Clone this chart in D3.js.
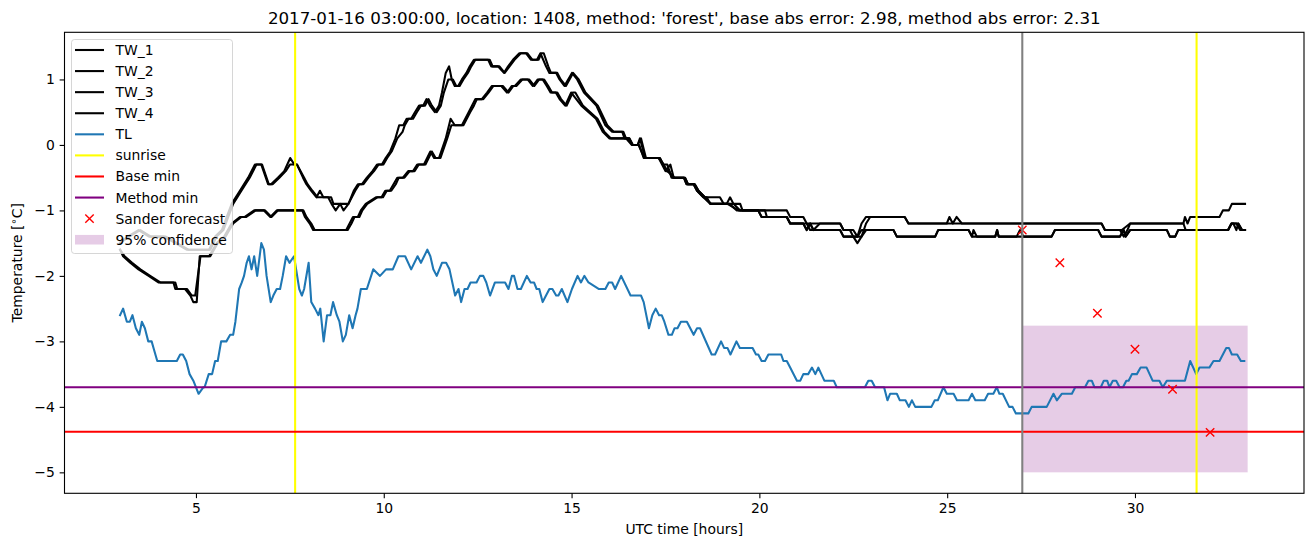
<!DOCTYPE html>
<html><head><meta charset="utf-8">
<script src="https://cdn.jsdelivr.net/npm/d3@7"></script>
<style>body{margin:0;background:#fff;} svg{display:block;font-family:"DejaVu Sans",sans-serif;}</style>
</head><body><svg id="chart" width="1313" height="547"></svg>
<script>
// ---------------- data ----------------
const tw1 = [[2.98,-1.5],[3.18,-1.4],[3.47,-1.3],[3.75,-1.4],[4.15,-1.4],[4.45,-1.5],[4.75,-1.6],[5.05,-1.6],[5.35,-1.6],[5.51,-1.4],[5.69,-1.3],[5.82,-1.1],[5.95,-0.9],[6.17,-0.7],[6.39,-0.5],[6.57,-0.3],[6.74,-0.3],[6.92,-0.6],[7.0,-0.6],[7.18,-0.5],[7.35,-0.4],[7.51,-0.2],[7.62,-0.3],[7.69,-0.3],[7.85,-0.5],[7.94,-0.6],[8.07,-0.7],[8.21,-0.8],[8.3,-0.7],[8.39,-0.8],[8.52,-0.8],[8.61,-0.9],[8.72,-1.0],[8.84,-0.9],[8.93,-1.0],[9.06,-0.9],[9.2,-0.7],[9.31,-0.6],[9.42,-0.6],[9.55,-0.5],[9.7,-0.4],[9.82,-0.3],[9.95,-0.3],[10.05,-0.2],[10.17,-0.1],[10.31,0.1],[10.41,0.3],[10.52,0.3],[10.61,0.4],[10.73,0.4],[10.83,0.5],[10.94,0.6],[11.05,0.6],[11.14,0.7],[11.23,0.6],[11.36,0.5],[11.47,0.6],[11.55,0.8],[11.65,1.1],[11.74,1.2],[11.81,1.0],[11.89,0.9],[11.98,0.9],[12.08,1.0],[12.2,1.1],[12.29,1.2],[12.4,1.3],[12.78,1.3],[12.86,1.2],[13.04,1.2],[13.2,1.1],[13.31,1.2],[13.44,1.3],[13.61,1.4],[13.79,1.4],[13.92,1.3],[14.08,1.3],[14.17,1.4],[14.32,1.2],[14.41,1.1],[14.59,1.1],[14.68,1.0],[14.81,0.9],[15.01,1.1],[15.15,1.0],[15.33,0.8],[15.66,0.6],[15.9,0.3],[16.08,0.2],[16.35,0.2],[16.41,0.1],[16.54,0.1],[16.63,0.0],[16.76,0.0],[16.82,0.1],[16.96,-0.2],[17.32,-0.2],[17.5,-0.4],[17.63,-0.3],[17.72,-0.5],[17.99,-0.5],[18.06,-0.6],[18.25,-0.6],[18.34,-0.7],[18.51,-0.8],[18.69,-0.9],[19.13,-0.9],[19.22,-0.8],[19.31,-0.9],[19.49,-1.0],[20.73,-1.0],[20.82,-1.1],[21.17,-1.1],[21.26,-1.2],[22.15,-1.2],[22.24,-1.3],[22.41,-1.3],[22.5,-1.4],[22.61,-1.5],[22.72,-1.4],[22.84,-1.2],[22.95,-1.1],[23.87,-1.1],[23.97,-1.2],[24.99,-1.2],[25.06,-1.1],[25.15,-1.2],[25.25,-1.1],[25.39,-1.2],[29.11,-1.2],[29.2,-1.3],[29.6,-1.3],[29.7,-1.4],[29.8,-1.3],[29.87,-1.2],[31.29,-1.2],[31.33,-1.1],[31.4,-1.2],[31.47,-1.1],[32.25,-1.1],[32.34,-1.0],[32.5,-1.0],[32.58,-0.9],[32.93,-0.9]];
const tw2 = [[2.98,-1.5],[3.22,-1.4],[3.52,-1.3],[3.8,-1.4],[4.2,-1.4],[4.5,-1.5],[4.8,-1.6],[5.1,-1.6],[5.38,-1.6],[5.55,-1.4],[5.73,-1.3],[5.86,-1.1],[5.99,-0.9],[6.21,-0.7],[6.43,-0.5],[6.61,-0.3],[6.76,-0.3],[6.94,-0.6],[7.04,-0.6],[7.22,-0.5],[7.39,-0.4],[7.5,-0.3],[7.69,-0.3],[7.88,-0.5],[7.97,-0.6],[8.1,-0.7],[8.24,-0.8],[8.4,-0.8],[8.6,-0.8],[8.66,-0.9],[9.06,-0.9],[9.24,-0.7],[9.35,-0.6],[9.46,-0.6],[9.59,-0.5],[9.74,-0.4],[9.86,-0.3],[9.99,-0.3],[10.09,-0.2],[10.21,-0.1],[10.36,0.1],[10.5,0.2],[10.56,0.3],[10.66,0.4],[10.78,0.4],[10.88,0.5],[10.99,0.6],[11.1,0.6],[11.19,0.7],[11.28,0.6],[11.41,0.5],[11.52,0.6],[11.6,0.8],[11.72,1.0],[11.84,1.0],[11.93,0.9],[12.02,0.9],[12.12,1.0],[12.24,1.1],[12.33,1.2],[12.44,1.3],[12.82,1.3],[12.9,1.2],[13.08,1.2],[13.22,1.1],[13.35,1.2],[13.48,1.3],[13.65,1.4],[13.82,1.4],[13.96,1.3],[14.12,1.3],[14.2,1.4],[14.26,1.4],[14.38,1.2],[14.45,1.1],[14.62,1.1],[14.71,1.0],[14.85,0.9],[15.04,1.1],[15.19,1.0],[15.37,0.8],[15.7,0.6],[15.95,0.3],[16.12,0.2],[16.38,0.2],[16.45,0.1],[16.54,0.1],[16.63,0.0],[16.8,0.0],[16.92,-0.2],[17.32,-0.2],[17.45,-0.3],[17.55,-0.3],[17.66,-0.5],[17.99,-0.5],[18.06,-0.6],[18.25,-0.6],[18.34,-0.7],[18.51,-0.8],[18.6,-0.8],[18.69,-0.9],[19.2,-0.9],[19.4,-1.0],[19.97,-1.0],[20.06,-1.1],[20.73,-1.1],[20.82,-1.2],[21.17,-1.2],[21.26,-1.3],[21.35,-1.2],[21.44,-1.3],[21.61,-1.2],[22.15,-1.2],[22.24,-1.3],[22.5,-1.3],[22.61,-1.4],[22.72,-1.2],[22.84,-1.1],[23.87,-1.1],[23.97,-1.2],[29.11,-1.2],[29.2,-1.3],[29.65,-1.3],[29.87,-1.2],[31.29,-1.2],[31.35,-1.3],[32.48,-1.3],[32.57,-1.2],[32.75,-1.2],[32.85,-1.3],[32.93,-1.3]];
const tw3 = [[2.98,-1.6],[3.06,-1.7],[3.25,-1.8],[3.47,-1.9],[3.74,-2.0],[4.0,-2.1],[4.4,-2.1],[4.45,-2.2],[4.71,-2.2],[4.85,-2.3],[4.93,-2.4],[5.02,-2.4],[5.1,-1.7],[5.35,-1.7],[5.55,-1.5],[5.75,-1.4],[5.95,-1.2],[6.17,-1.1],[6.3,-1.1],[6.55,-1.0],[6.81,-1.0],[6.98,-1.1],[7.15,-1.0],[7.83,-1.0],[7.9,-1.1],[8.03,-1.2],[8.12,-1.3],[9.0,-1.3],[9.18,-1.1],[9.31,-1.1],[9.39,-1.0],[9.52,-0.9],[9.79,-0.8],[9.94,-0.8],[10.04,-0.7],[10.16,-0.7],[10.36,-0.5],[10.51,-0.5],[10.65,-0.4],[10.78,-0.4],[10.89,-0.3],[11.07,-0.3],[11.24,-0.1],[11.34,-0.2],[11.47,-0.2],[11.65,0.1],[11.78,0.4],[11.89,0.3],[12.08,0.3],[12.26,0.5],[12.44,0.7],[12.61,0.7],[12.75,0.8],[12.88,0.9],[13.13,0.9],[13.28,0.8],[13.41,0.9],[13.49,0.9],[13.65,1.0],[13.83,1.0],[13.97,0.9],[14.1,1.0],[14.23,1.0],[14.34,0.9],[14.44,0.8],[14.58,0.8],[14.68,0.7],[14.83,0.6],[14.99,0.8],[15.26,0.6],[15.65,0.4],[15.83,0.2],[16.01,0.1],[16.36,0.1],[16.45,0.1],[16.6,0.0],[16.76,0.0],[16.85,0.1],[16.98,-0.2],[17.35,-0.2],[17.52,-0.4],[17.6,-0.4],[17.7,-0.5],[18.02,-0.5],[18.1,-0.6],[18.28,-0.6],[18.38,-0.7],[18.55,-0.8],[18.95,-0.8],[19.05,-0.9],[19.49,-0.9],[19.55,-1.0],[19.97,-1.0],[20.06,-1.1],[20.73,-1.1],[20.82,-1.2],[21.17,-1.2],[21.26,-1.3],[21.35,-1.2],[21.44,-1.3],[22.15,-1.3],[22.24,-1.4],[22.61,-1.4],[22.72,-1.3],[23.57,-1.3],[23.66,-1.4],[24.68,-1.4],[24.76,-1.3],[25.57,-1.3],[25.66,-1.4],[25.7,-1.3],[25.79,-1.4],[26.28,-1.4],[26.33,-1.3],[26.37,-1.4],[26.85,-1.4],[26.94,-1.3],[27.03,-1.4],[27.78,-1.4],[27.87,-1.3],[29.02,-1.3],[29.11,-1.4],[29.6,-1.4],[29.7,-1.3],[29.75,-1.4],[29.87,-1.3],[30.85,-1.3],[30.93,-1.4],[31.07,-1.4],[31.15,-1.3],[32.48,-1.3],[32.57,-1.2],[32.7,-1.2],[32.8,-1.3],[32.93,-1.3]];
const tw4 = [[2.98,-1.6],[3.1,-1.7],[3.3,-1.8],[3.52,-1.9],[3.78,-2.0],[4.05,-2.1],[4.45,-2.1],[4.5,-2.2],[4.76,-2.2],[4.89,-2.3],[4.98,-2.3],[5.12,-1.7],[5.38,-1.7],[5.58,-1.5],[5.79,-1.4],[5.99,-1.2],[6.21,-1.1],[6.34,-1.1],[6.59,-1.0],[6.84,-1.0],[7.01,-1.1],[7.18,-1.0],[7.86,-1.0],[7.94,-1.1],[8.07,-1.2],[8.16,-1.3],[9.04,-1.3],[9.14,-1.2],[9.22,-1.1],[9.35,-1.1],[9.43,-1.0],[9.56,-0.9],[9.83,-0.8],[9.98,-0.8],[10.08,-0.7],[10.2,-0.7],[10.32,-0.6],[10.4,-0.5],[10.55,-0.5],[10.69,-0.4],[10.82,-0.4],[10.93,-0.3],[11.11,-0.3],[11.28,-0.1],[11.38,-0.2],[11.51,-0.2],[11.69,0.1],[11.8,0.3],[11.93,0.3],[12.12,0.3],[12.3,0.5],[12.4,0.6],[12.48,0.7],[12.65,0.7],[12.79,0.8],[12.92,0.9],[13.17,0.9],[13.32,0.8],[13.45,0.9],[13.53,0.9],[13.69,1.0],[13.87,1.0],[14.01,0.9],[14.14,1.0],[14.27,1.0],[14.38,0.9],[14.48,0.8],[14.62,0.8],[14.72,0.7],[14.87,0.6],[15.03,0.8],[15.1,0.8],[15.3,0.6],[15.69,0.4],[15.87,0.2],[16.05,0.1],[16.4,0.1],[16.5,0.1],[16.62,0.0],[16.78,0.0],[16.94,-0.2],[17.35,-0.2],[17.55,-0.4],[17.74,-0.5],[18.02,-0.5],[18.1,-0.6],[18.28,-0.6],[18.38,-0.7],[18.55,-0.8],[18.72,-0.9],[19.15,-0.9],[19.45,-1.0],[20.15,-1.0],[20.2,-1.1],[20.73,-1.1],[20.82,-1.2],[21.26,-1.2],[21.35,-1.3],[22.15,-1.3],[22.24,-1.4],[22.72,-1.4],[22.84,-1.3],[23.57,-1.3],[23.66,-1.4],[24.68,-1.4],[24.76,-1.3],[25.57,-1.3],[25.66,-1.4],[26.28,-1.4],[26.33,-1.3],[26.37,-1.4],[27.78,-1.4],[27.87,-1.3],[29.02,-1.3],[29.11,-1.4],[29.6,-1.4],[29.7,-1.3],[29.75,-1.4],[29.87,-1.3],[30.85,-1.3],[30.93,-1.4],[31.07,-1.4],[31.15,-1.3],[32.48,-1.3],[32.57,-1.2],[32.62,-1.2],[32.7,-1.3],[32.75,-1.2],[32.85,-1.3],[32.93,-1.3]];
const tl = [[2.98,-2.6],[3.06,-2.5],[3.16,-2.7],[3.24,-2.7],[3.31,-2.6],[3.4,-2.8],[3.49,-2.9],[3.56,-2.7],[3.64,-2.8],[3.73,-3.0],[3.82,-3.0],[3.87,-3.1],[3.97,-3.3],[4.49,-3.3],[4.58,-3.2],[4.65,-3.2],[4.74,-3.3],[4.83,-3.5],[4.93,-3.6],[5.07,-3.8],[5.2,-3.7],[5.23,-3.7],[5.34,-3.5],[5.43,-3.5],[5.51,-3.3],[5.58,-3.3],[5.67,-3.0],[5.81,-3.0],[5.91,-2.9],[5.99,-2.9],[6.05,-2.7],[6.15,-2.2],[6.22,-2.1],[6.28,-2.0],[6.35,-1.8],[6.41,-1.7],[6.48,-1.9],[6.55,-1.7],[6.63,-2.0],[6.74,-1.5],[6.81,-1.6],[6.88,-2.0],[6.99,-2.4],[7.06,-2.3],[7.15,-2.2],[7.24,-2.2],[7.31,-2.0],[7.4,-1.7],[7.49,-1.8],[7.61,-1.7],[7.75,-2.2],[7.82,-2.3],[7.88,-2.2],[8.0,-1.8],[8.07,-2.4],[8.17,-2.5],[8.26,-2.6],[8.31,-2.5],[8.4,-3.0],[8.49,-2.6],[8.58,-2.6],[8.65,-2.4],[8.75,-2.6],[8.82,-2.7],[8.91,-3.0],[8.99,-2.9],[9.08,-2.6],[9.17,-2.8],[9.25,-2.6],[9.3,-2.5],[9.39,-2.2],[9.55,-2.2],[9.72,-1.9],[9.9,-2.0],[10.06,-1.9],[10.24,-1.9],[10.39,-1.7],[10.57,-1.7],[10.73,-1.9],[10.9,-1.7],[10.99,-1.8],[11.16,-1.6],[11.24,-1.7],[11.32,-1.9],[11.41,-2.0],[11.55,-1.8],[11.66,-1.8],[11.75,-1.9],[11.9,-2.3],[11.99,-2.2],[12.06,-2.4],[12.15,-2.2],[12.23,-2.2],[12.31,-2.1],[12.47,-2.1],[12.56,-2.0],[12.65,-2.0],[12.73,-2.1],[12.83,-2.3],[12.96,-2.1],[13.23,-2.1],[13.32,-2.2],[13.41,-2.0],[13.47,-2.0],[13.56,-2.2],[13.65,-2.2],[13.81,-2.0],[13.91,-2.1],[14.0,-2.1],[14.07,-2.2],[14.14,-2.2],[14.23,-2.4],[14.41,-2.2],[14.49,-2.2],[14.59,-2.3],[14.65,-2.3],[14.74,-2.2],[14.89,-2.4],[15.01,-2.2],[15.16,-2.0],[15.25,-2.1],[15.34,-2.0],[15.45,-2.1],[15.72,-2.2],[15.9,-2.2],[15.99,-2.1],[16.08,-2.1],[16.16,-2.2],[16.32,-2.0],[16.57,-2.3],[16.85,-2.3],[16.92,-2.4],[17.06,-2.8],[17.15,-2.6],[17.24,-2.5],[17.33,-2.6],[17.4,-2.6],[17.47,-2.7],[17.58,-2.9],[17.67,-2.9],[17.74,-2.8],[17.82,-2.8],[17.91,-2.7],[18.07,-2.7],[18.25,-2.9],[18.34,-2.8],[18.42,-2.8],[18.73,-3.2],[18.82,-3.2],[18.98,-3.0],[19.06,-3.1],[19.15,-3.1],[19.23,-3.2],[19.39,-3.0],[19.48,-3.1],[19.82,-3.1],[19.91,-3.2],[19.97,-3.2],[20.06,-3.3],[20.15,-3.3],[20.24,-3.2],[20.58,-3.2],[20.64,-3.3],[20.73,-3.3],[20.82,-3.4],[21.0,-3.6],[21.09,-3.6],[21.17,-3.5],[21.3,-3.5],[21.4,-3.4],[21.49,-3.5],[21.57,-3.4],[21.73,-3.6],[21.98,-3.6],[22.06,-3.7],[22.81,-3.7],[22.9,-3.6],[22.99,-3.6],[23.08,-3.7],[23.32,-3.7],[23.41,-3.9],[23.48,-3.8],[23.66,-3.8],[23.74,-3.9],[23.89,-3.9],[23.98,-4.0],[24.06,-3.9],[24.15,-4.0],[24.58,-4.0],[24.67,-3.9],[24.75,-3.9],[24.9,-3.7],[24.99,-3.8],[25.17,-3.8],[25.26,-3.9],[25.57,-3.9],[25.66,-3.8],[25.75,-3.9],[26.0,-3.9],[26.09,-3.8],[26.23,-3.8],[26.32,-3.7],[26.39,-3.8],[26.48,-3.8],[26.65,-4.0],[26.74,-4.0],[26.83,-4.1],[27.16,-4.1],[27.25,-4.0],[27.65,-4.0],[27.83,-3.8],[27.92,-3.9],[28.05,-3.8],[28.32,-3.8],[28.41,-3.7],[28.67,-3.7],[28.76,-3.6],[28.85,-3.6],[28.92,-3.7],[29.09,-3.7],[29.17,-3.6],[29.26,-3.6],[29.32,-3.7],[29.41,-3.6],[29.5,-3.6],[29.59,-3.7],[29.68,-3.7],[29.77,-3.6],[29.83,-3.6],[29.92,-3.5],[30.05,-3.5],[30.15,-3.4],[30.31,-3.4],[30.47,-3.6],[30.65,-3.6],[30.74,-3.7],[30.85,-3.6],[31.33,-3.6],[31.47,-3.3],[31.63,-3.5],[31.72,-3.4],[31.98,-3.4],[32.09,-3.3],[32.25,-3.3],[32.43,-3.1],[32.5,-3.1],[32.58,-3.2],[32.72,-3.2],[32.82,-3.3],[32.91,-3.3]];
const forecastHours = [27, 28, 29, 30, 31, 32];
const forecastTemps = [-1.30, -1.80, -2.57, -3.12, -3.73, -4.39];
const sunriseHours = [7.64, 31.64];
const baseMin = -4.38;
const methodMin = -3.70;
const forecastStartHour = 27;
const confidenceHours = [27, 33];
const confidenceRange = [-5.0, -2.76];
const xTickValues = [5, 10, 15, 20, 25, 30];
const yTickValues = [-5, -4, -3, -2, -1, 0, 1];
const legendLabels = ["TW_1", "TW_2", "TW_3", "TW_4", "TL", "sunrise", "Base min", "Method min", "Sander forecast", "95% confidence"];
const titleText = "2017-01-16 03:00:00, location: 1408, method: 'forest', base abs error: 2.98, method abs error: 2.31";

// ---------------- layout ----------------
const L = 64.5, R = 1304, T = 32.3, B = 493.3;
const LW = 2.08;
const svg = d3.select("#chart");
const x = d3.scaleLinear().domain([1.5, 34.5]).range([L, R]);
const y = d3.scaleLinear().domain([-5.32, 1.72]).range([B, T]);

svg.append("rect").attr("width", 1313).attr("height", 547).attr("fill", "#fff");
svg.append("defs").append("clipPath").attr("id", "clip")
  .append("rect").attr("x", L).attr("y", T).attr("width", R - L).attr("height", B - T);
const plot = svg.append("g").attr("clip-path", "url(#clip)");

// confidence band
plot.append("rect")
  .attr("x", x(confidenceHours[0])).attr("width", x(confidenceHours[1]) - x(confidenceHours[0]))
  .attr("y", y(confidenceRange[1])).attr("height", y(confidenceRange[0]) - y(confidenceRange[1]))
  .attr("fill", "purple").attr("fill-opacity", 0.2);

const line = d3.line().x(d => x(d[0])).y(d => y(d[1]));
[tw1, tw2, tw3, tw4].forEach(s => {
  plot.append("path").attr("d", line(s)).attr("fill", "none").attr("stroke", "#000")
    .attr("stroke-width", LW).attr("stroke-linejoin", "round").attr("stroke-linecap", "square");
});
plot.append("path").attr("d", line(tl)).attr("fill", "none").attr("stroke", "#1f77b4")
  .attr("stroke-width", LW).attr("stroke-linejoin", "round").attr("stroke-linecap", "square");

sunriseHours.forEach(h => {
  plot.append("line").attr("x1", x(h)).attr("x2", x(h)).attr("y1", T).attr("y2", B)
    .attr("stroke", "yellow").attr("stroke-width", LW);
});
plot.append("line").attr("x1", L).attr("x2", R).attr("y1", y(baseMin)).attr("y2", y(baseMin))
  .attr("stroke", "red").attr("stroke-width", LW);
plot.append("line").attr("x1", L).attr("x2", R).attr("y1", y(methodMin)).attr("y2", y(methodMin))
  .attr("stroke", "purple").attr("stroke-width", LW);

const xMark = (g, cx, cy, s) => {
  g.append("path").attr("d", `M${cx - s},${cy - s}L${cx + s},${cy + s}M${cx - s},${cy + s}L${cx + s},${cy - s}`)
    .attr("stroke", "red").attr("stroke-width", 1.4).attr("fill", "none");
};
forecastHours.forEach((h, i) => xMark(plot, x(h), y(forecastTemps[i]), 4.2));

plot.append("line").attr("x1", x(forecastStartHour)).attr("x2", x(forecastStartHour)).attr("y1", T).attr("y2", B)
  .attr("stroke", "grey").attr("stroke-width", LW);

// ---------------- axes ----------------
const fs = 13.9;
const xAxis = svg.append("g").attr("transform", `translate(0,${B})`)
  .call(d3.axisBottom(x).tickValues(xTickValues).tickSize(4.86).tickSizeOuter(0).tickPadding(4.9));
const yAxis = svg.append("g").attr("transform", `translate(${L},0)`)
  .call(d3.axisLeft(y).tickValues(yTickValues).tickSize(4.86).tickSizeOuter(0).tickPadding(4.9).tickFormat(d3.format("d")));
[xAxis, yAxis].forEach(a => {
  a.select(".domain").remove();
  a.selectAll("text").attr("font-size", fs).attr("font-family", "DejaVu Sans").attr("fill", "#000");
  a.selectAll("line").attr("stroke", "#000").attr("stroke-width", 1.1);
});
svg.append("rect").attr("x", L).attr("y", T).attr("width", R - L).attr("height", B - T)
  .attr("fill", "none").attr("stroke", "#000").attr("stroke-width", 1.1);

svg.append("text").attr("x", (L + R) / 2).attr("y", 534).attr("text-anchor", "middle")
  .attr("font-size", fs).text("UTC time [hours]");
const yl = svg.append("text").attr("transform", `translate(22,${(T + B) / 2}) rotate(-90)`)
  .attr("text-anchor", "middle").attr("font-size", fs);
yl.append("tspan").text("Temperature [");
yl.append("tspan").attr("font-size", 10).attr("dy", -5).text("\u2218");
yl.append("tspan").attr("dy", 5).text("C]");
svg.append("text").attr("x", (L + R) / 2).attr("y", 24).attr("text-anchor", "middle")
  .attr("font-size", 16.7).text(titleText);

// ---------------- legend ----------------
const lg = svg.append("g");
lg.append("rect").attr("x", 71.5).attr("y", 39.5).attr("width", 161).attr("height", 214).attr("rx", 3)
  .attr("fill", "#fff").attr("fill-opacity", 0.8).attr("stroke", "#ccc").attr("stroke-opacity", 0.8);
const legendColors = ["#000", "#000", "#000", "#000", "#1f77b4", "yellow", "red", "purple"];
legendLabels.forEach((lab, i) => {
  const cy = 50 + i * 21.08;
  if (i < 8) {
    lg.append("line").attr("x1", 75).attr("x2", 104).attr("y1", cy).attr("y2", cy)
      .attr("stroke", legendColors[i]).attr("stroke-width", LW);
  } else if (i === 8) {
    xMark(lg, 89.5, cy, 4.2);
  } else {
    lg.append("rect").attr("x", 75).attr("y", cy - 4.8).attr("width", 29).attr("height", 9.6)
      .attr("fill", "purple").attr("fill-opacity", 0.2);
  }
  lg.append("text").attr("x", 115.5).attr("y", cy + 5).attr("font-size", fs).text(lab);
});
</script></body></html>
